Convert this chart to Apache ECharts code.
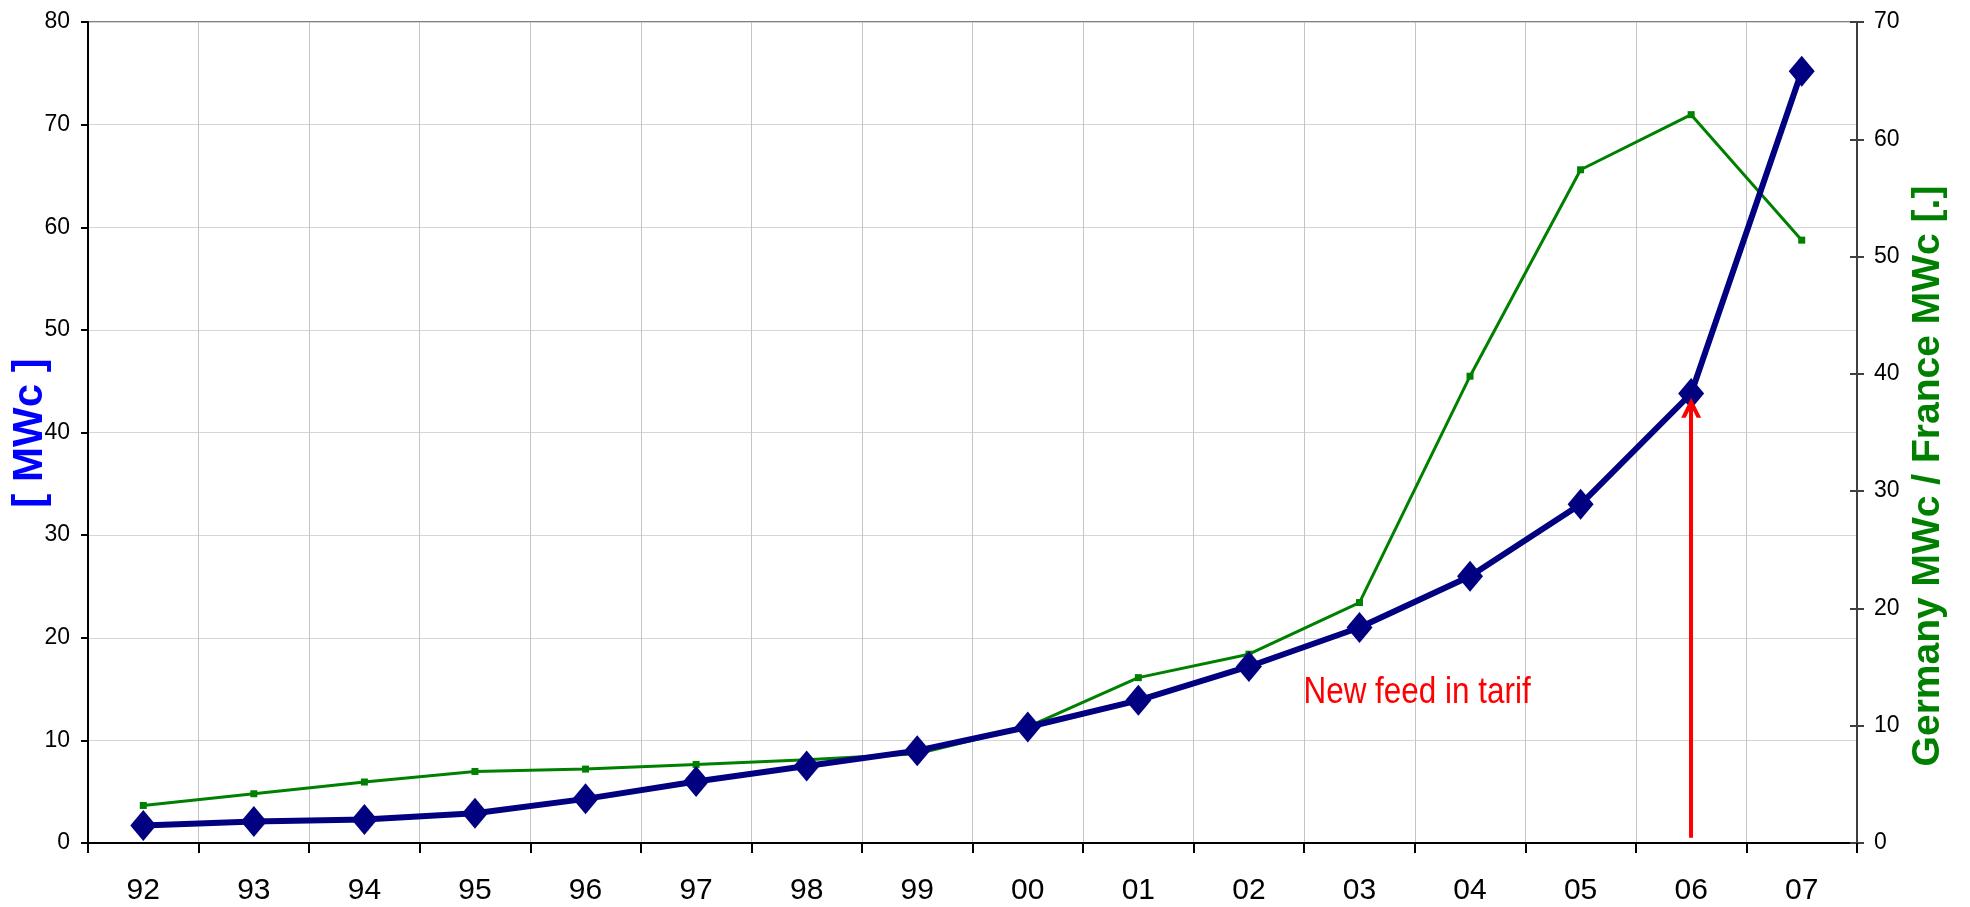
<!DOCTYPE html>
<html>
<head>
<meta charset="utf-8">
<script src="https://cdn.jsdelivr.net/npm/echarts@6/dist/echarts.min.js"></script>
<style>
  html, body { margin: 0; padding: 0; background: #fff; }
  #chart { width: 1970px; height: 907px; }
</style>
</head>
<body>
<div id="chart"></div>
<script>
// Years (two-digit labels)
const years = ['92','93','94','95','96','97','98','99','00','01','02','03','04','05','06','07'];
// France installed PV capacity, MWc (left axis)
const franceMWc = [1.7, 2.1, 2.3, 2.9, 4.3, 6.0, 7.5, 9.0, 11.3, 13.9, 17.2, 21.0, 26.0, 33.0, 43.8, 75.2];
// Ratio Germany MWc / France MWc (right axis)
const germanyFranceRatio = [3.2, 4.2, 5.2, 6.1, 6.3, 6.7, 7.1, 7.6, 9.9, 14.1, 16.1, 20.5, 39.8, 57.4, 62.1, 51.4];
// Axis titles
const leftTitle = '[ MWc ]';
const rightTitle = 'Germany MWc / France MWc [.]';
// Feed-in tariff annotation: year, arrow extent on the left axis (shaft end), caption
const tariffYear = '06';
const tariffArrow = [0.5, 42.4];
const tariffLabel = 'New feed in tarif';
const tariffLabelAnchor = ['03', 14.6];

const font = "'Liberation Sans', Arial, sans-serif";

const chart = echarts.init(document.getElementById('chart'));
chart.setOption({
  animation: false,
  backgroundColor: '#ffffff',
  grid: {
    left: 88, right: 113, top: 22, bottom: 64,
    outerBoundsMode: 'none',
    containLabel: false,
    show: true, borderColor: '#808080', borderWidth: 2
  },
  xAxis: {
    type: 'category',
    data: years,
    boundaryGap: true,
    axisLine: { lineStyle: { color: '#000', width: 2 } },
    axisTick: { show: true, length: 10, lineStyle: { color: '#000', width: 2 } },
    axisLabel: { margin: 33, color: '#000', fontFamily: font, fontSize: 30 },
    splitLine: { show: true, interval: 0, lineStyle: { color: '#c4c4c4', width: 1 } }
  },
  yAxis: [
    {
      type: 'value',
      min: 0, max: 80, interval: 10,
      axisLine: { show: true, lineStyle: { color: '#000', width: 2 } },
      axisTick: { show: true, length: 7, lineStyle: { color: '#000', width: 2 } },
      axisLabel: { margin: 18, color: '#000', fontFamily: font, fontSize: 23 },
      splitLine: { show: true, lineStyle: { color: '#d6d6d6', width: 1 } }
    },
    {
      type: 'value',
      min: 0, max: 70, interval: 10,
      position: 'right',
      axisLine: { show: true, lineStyle: { color: '#404040', width: 2 } },
      axisTick: { show: true, length: 7, lineStyle: { color: '#404040', width: 2 } },
      axisLabel: { margin: 17, color: '#000', fontFamily: font, fontSize: 23 },
      splitLine: { show: false }
    },
    {
      // inner half of the crossing ticks on the right axis
      type: 'value',
      min: 0, max: 70, interval: 10,
      position: 'right',
      axisLine: { show: false },
      axisTick: { show: true, inside: true, length: 7, lineStyle: { color: '#404040', width: 2 } },
      axisLabel: { show: false },
      splitLine: { show: false }
    }
  ],
  series: [
    {
      name: 'Germany / France',
      type: 'line',
      yAxisIndex: 1,
      data: germanyFranceRatio,
      symbol: 'rect',
      symbolSize: 7,
      itemStyle: { color: '#008000' },
      lineStyle: { color: '#008000', width: 3 },
      z: 3
    },
    {
      name: 'France',
      type: 'line',
      yAxisIndex: 0,
      data: franceMWc,
      symbol: 'diamond',
      symbolSize: [26, 31],
      itemStyle: { color: '#000080' },
      lineStyle: { color: '#000080', width: 6 },
      z: 4
    },
    {
      // red arrow marking the new feed-in tariff, on its own layer above the data
      name: 'Tariff',
      type: 'line',
      yAxisIndex: 0,
      data: [],
      zlevel: 1,
      z: 10,
      markLine: {
        silent: true,
        zlevel: 1,
        z: 20,
        symbol: ['none', 'path://M0,20 L10,0 L20,20 L15.5,20 L10,9 L4.5,20 Z'],
        symbolSize: [20, 20],
        lineStyle: { color: '#ff0000', width: 4, type: 'solid' },
        itemStyle: { color: '#ff0000' },
        label: { show: false },
        data: [[
          { coord: [tariffYear, tariffArrow[0]] },
          { coord: [tariffYear, tariffArrow[1]] }
        ]]
      }
    }
  ]
});

// Axis titles and the tariff caption, anchored through the chart's own scales
const anchor = chart.convertToPixel({ xAxisIndex: 0, yAxisIndex: 0 }, tariffLabelAnchor);
chart.setOption({
  graphic: [
    {
      type: 'text',
      x: 30, y: 433,
      rotation: Math.PI / 2,
      style: {
        text: leftTitle,
        fill: '#0000ff',
        font: "bold 42px 'Liberation Sans', Arial, sans-serif",
        textAlign: 'center',
        textVerticalAlign: 'middle'
      }
    },
    {
      type: 'text',
      x: 1928, y: 476,
      rotation: Math.PI / 2,
      style: {
        text: rightTitle,
        fill: '#008000',
        font: "bold 39px 'Liberation Sans', Arial, sans-serif",
        textAlign: 'center',
        textVerticalAlign: 'middle'
      }
    },
    {
      type: 'text',
      x: anchor[0] - 56, y: anchor[1],
      scaleX: 0.85,
      style: {
        text: tariffLabel,
        fill: '#ff0000',
        font: "37px 'Liberation Sans', Arial, sans-serif",
        textAlign: 'left',
        textVerticalAlign: 'middle'
      },
      z: 10
    }
  ]
});
</script>
</body>
</html>
